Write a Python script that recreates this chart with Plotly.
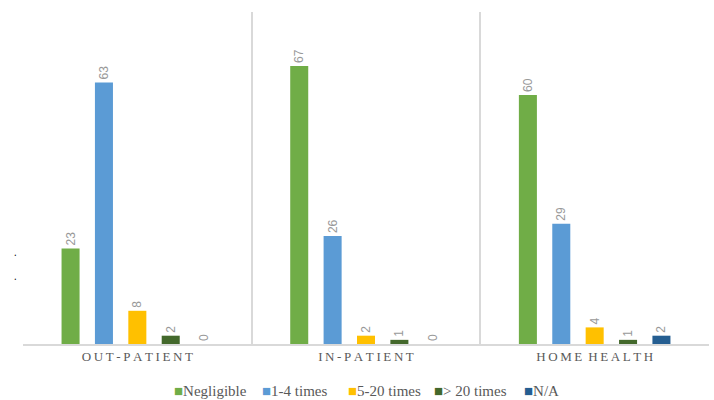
import plotly.graph_objects as go

categories = ["OUT-PATIENT", "IN-PATIENT", "HOME HEALTH"]
series_names = ["Negligible", "1-4 times", "5-20 times", "> 20 times", "N/A"]
negligible = [23, 67, 60]
one_to_four = [63, 26, 29]
five_to_twenty = [8, 2, 4]
over_twenty = [2, 1, 1]
not_applicable = [0, 0, 2]

colors = ["#70ad47", "#5b9bd5", "#ffc000", "#43682b", "#255e91"]
values = [negligible, one_to_four, five_to_twenty, over_twenty, not_applicable]
legend_x = [0.2165, 0.345, 0.471, 0.596, 0.728]


def spaced(label):
    # widen the letter spacing of the category labels
    return "\u2009".join(label).replace("\u2009 \u2009", "\u2009 ")


fig = go.Figure()
for name, vals, col in zip(series_names, values, colors):
    fig.add_trace(go.Bar(
        name=name,
        x=categories,
        y=vals,
        marker=dict(color=col, line=dict(width=0)),
        text=[str(v) for v in vals],
        textposition="outside",
        textangle=-90,
        textfont=dict(family="Liberation Sans", size=12, color="#999999"),
        cliponaxis=False,
        showlegend=False,
    ))

# compact legend: coloured square followed by the series name
for name, col, lx in zip(series_names, colors, legend_x):
    fig.add_annotation(
        xref="paper", yref="paper", x=lx, y=-0.1416, xanchor="left", yanchor="middle",
        showarrow=False,
        text=f'<span style="color:{col}">■</span>{name}',
        font=dict(family="Liberation Serif", size=15, color="#595959"),
    )

for yy in [0.25, 0.178]:
    fig.add_annotation(xref="paper", yref="paper", x=-0.016, y=yy, showarrow=False,
                       text=".", font=dict(size=10, color="#000000"))

fig.update_layout(
    width=714, height=400,
    margin=dict(l=23, r=5, t=12, b=56, autoexpand=False),
    paper_bgcolor="white", plot_bgcolor="white",
    barmode="group", bargap=0.27, bargroupgap=0.46,
    showlegend=False,
    xaxis=dict(
        tickmode="array", tickvals=categories, ticktext=[spaced(c) for c in categories],
        tickson="boundaries", showgrid=True, gridcolor="#d9d9d9", gridwidth=1.5,
        showline=True, linecolor="#d9d9d9", linewidth=1.5,
        ticks="outside", ticklen=5, tickcolor="rgba(0,0,0,0)",
        tickfont=dict(family="Liberation Serif", size=13, color="#595959"),
    ),
    yaxis=dict(range=[0, 80], showgrid=False, showticklabels=False, zeroline=False, showline=False),
)

fig.write_html("out.html")
